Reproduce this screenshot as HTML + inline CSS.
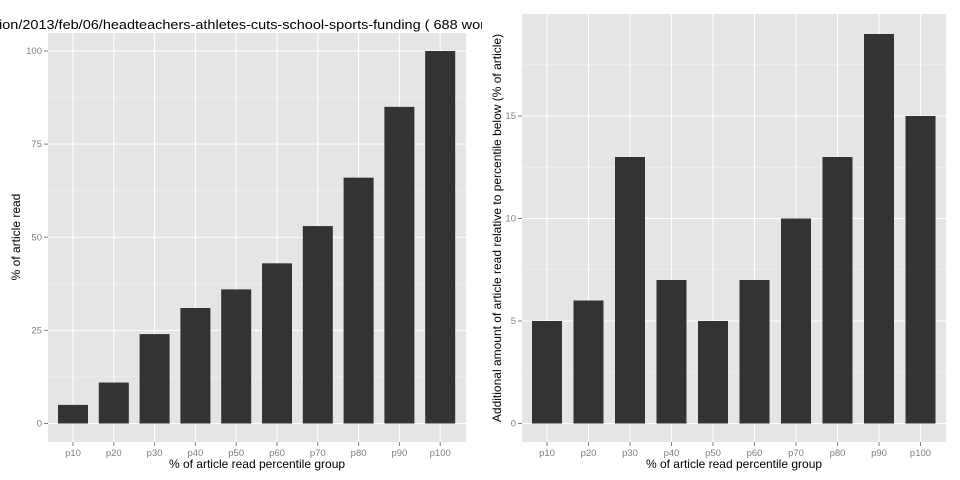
<!DOCTYPE html>
<html><head><meta charset="utf-8"><style>
html,body{margin:0;padding:0;background:#fff;}
svg{display:block;font-family:"Liberation Sans",sans-serif;}
</style></head><body>
<svg id="c" width="960" height="480" viewBox="0 0 960 480">
<defs><clipPath id="tc"><rect x="0" y="0" width="482" height="40"/></clipPath></defs>
<g clip-path="url(#tc)"><text x="-1" y="29" font-size="13" textLength="486" lengthAdjust="spacingAndGlyphs">ion/2013/feb/06/headteachers-athletes-cuts-school-sports-funding ( 688 wor</text></g>
<g id="L"></g><g id="R"></g>
<text transform="translate(20,237) rotate(-90)" text-anchor="middle" font-size="12">% of article read</text>
<text x="257" y="468" text-anchor="middle" font-size="12">% of article read percentile group</text>
<text transform="translate(501,228) rotate(-90)" text-anchor="middle" font-size="12">Additional amount of article read relative to percentile below (% of article)</text>
<text x="734" y="468" text-anchor="middle" font-size="12">% of article read percentile group</text>
</svg>
<script>
const categories=["p10","p20","p30","p40","p50","p60","p70","p80","p90","p100"];
const leftValues=[5,11,24,31,36,43,53,66,85,100];
const rightValues=[5,6,13,7,5,7,10,13,19,15];
const leftTicks=[0,25,50,75,100];
const rightTicks=[0,5,10,15];
const NS="http://www.w3.org/2000/svg";
function mk(p,t,a){const e=document.createElementNS(NS,t);for(const k in a)e.setAttribute(k,a[k]);p.appendChild(e);return e;}
function panel(g,o,vals,ticks,name){
  const xs=i=>o.x0+i*o.dx, ys=v=>o.zero-v*o.k;
  const bg=mk(g,'rect',{x:o.l,y:o.t,width:o.r-o.l,height:o.b-o.t,fill:'#e5e5e5'});
  
  
  const step=ticks[1]-ticks[0];
  for(let i=0;i<ticks.length+1;i++){const v=ticks[0]+step*(i+0.5);const y=ys(v);if(y>o.t)mk(g,'line',{x1:o.l,x2:o.r,y1:y,y2:y,stroke:'#f2f2f2','stroke-width':0.6});}
  ticks.forEach(v=>{const y=ys(v);
    mk(g,'line',{x1:o.l,x2:o.r,y1:y,y2:y,stroke:'#fff','stroke-width':1.1});
    mk(g,'line',{x1:o.l-4,x2:o.l,y1:y,y2:y,stroke:'#7f7f7f','stroke-width':1});
    const t=mk(g,'text',{x:o.l-6,y:y+3,'text-anchor':'end','font-size':9.5,fill:'#7f7f7f'});t.textContent=v;
    
    
  });
  categories.forEach((c,i)=>{const x=xs(i);
    mk(g,'line',{x1:x,x2:x,y1:o.t,y2:o.b,stroke:'#fff','stroke-width':1.1});
    mk(g,'line',{x1:x,x2:x,y1:o.b,y2:o.b+4,stroke:'#7f7f7f','stroke-width':1});
    const t=mk(g,'text',{x:x,y:o.b+14,'text-anchor':'middle','font-size':9.5,fill:'#7f7f7f'});t.textContent=c;
    
    
  });
  vals.forEach((v,i)=>{const x=xs(i);
    const r=mk(g,'rect',{x:x-15,y:ys(v),width:30,height:o.zero-ys(v),fill:'#333333'});
    
    
  });
}
panel(document.getElementById('L'),{l:48,r:466,t:33,b:442,x0:73,dx:40.8,zero:423.5,k:3.725},leftValues,leftTicks,'left');
panel(document.getElementById('R'),{l:522,r:946,t:14,b:442,x0:547,dx:41.5,zero:423.5,k:20.5},rightValues,rightTicks,'right');
</script>
</body></html>
